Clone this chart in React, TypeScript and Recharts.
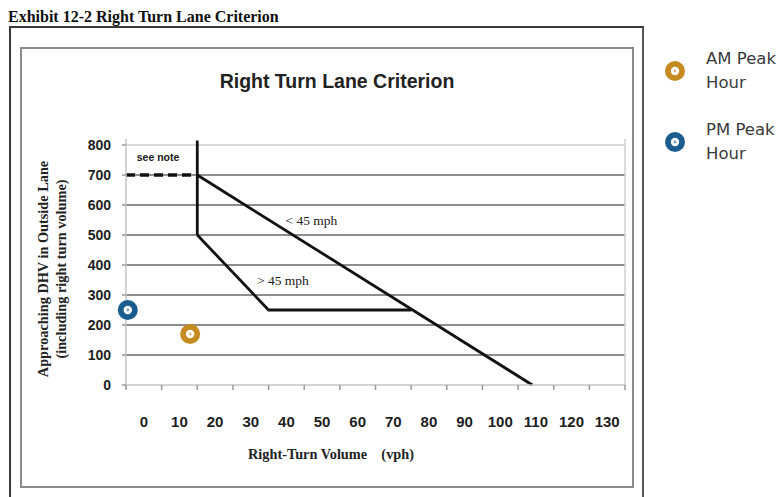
import React from 'react';
import {
  ComposedChart,
  Line,
  Scatter,
  XAxis,
  YAxis,
  CartesianGrid,
  Legend,
  ReferenceDot,
} from 'recharts';

// ---- data ----
const xTickMarks = [-5, 5, 15, 25, 35, 45, 55, 65, 75, 85, 95, 105, 115, 125, 135];
const xTickLabels = [0, 10, 20, 30, 40, 50, 60, 70, 80, 90, 100, 110, 120, 130];
const yTicks = [0, 100, 200, 300, 400, 500, 600, 700, 800];
const gridValues = [100, 200, 300, 400, 500, 600, 700];

const boundaryVertical = [
  { x: 15, y: 815 },
  { x: 15, y: 500 },
];
const below45 = [
  { x: 15, y: 700 },
  { x: 109, y: 0 },
];
const above45 = [
  { x: 15, y: 500 },
  { x: 35, y: 250 },
  { x: 75, y: 250 },
];
const seeNoteLine = [
  { x: -5, y: 700 },
  { x: 15, y: 700 },
];
const amPeak = [{ x: 13, y: 170 }];
const pmPeak = [{ x: -4.5, y: 250 }];

const annotations = [
  { x: 4, y: 760, text: 'see note', font: 'Liberation Sans, Arial, sans-serif', size: 10.5, weight: 700 },
  { x: 47, y: 548, text: '< 45 mph', font: 'Liberation Serif, Times New Roman, serif', size: 13.5, weight: 400 },
  { x: 39, y: 348, text: '> 45 mph', font: 'Liberation Serif, Times New Roman, serif', size: 13.5, weight: 400 },
];

const AM_COLOR = '#c68b20';
const PM_COLOR = '#1b5d8f';

const ring = (props: any) => {
  const { cx, cy, fill } = props;
  if (cx == null || cy == null) return <g />;
  return (
    <g>
      <circle cx={cx} cy={cy} r={10} fill={fill} />
      <circle cx={cx} cy={cy} r={4.2} fill="#ffffff" />
      <circle cx={cx} cy={cy} r={1.4} fill={fill} opacity={0.6} />
    </g>
  );
};

const renderLegend = (props: any) => {
  const payload = (props.payload || []).filter((p: any) => p.type !== 'none');
  return (
    <div style={{ display: 'flex', flexDirection: 'column', gap: 23 }}>
      {payload.map((entry: any) => (
        <div key={entry.value} style={{ display: 'flex', alignItems: 'center' }}>
          <svg width={26} height={26} style={{ flex: 'none' }}>
            <circle cx={13} cy={13} r={10} fill={entry.color} />
            <circle cx={13} cy={13} r={4.2} fill="#fff" />
            <circle cx={13} cy={13} r={1.4} fill={entry.color} opacity={0.6} />
          </svg>
          <div
            style={{
              marginLeft: 18,
              width: 78,
              fontFamily: 'DejaVu Sans, sans-serif',
              fontSize: 16.5,
              lineHeight: '24px',
              color: '#3a3a3a',
              textAlign: 'left',
            }}
          >
            {entry.value}
          </div>
        </div>
      ))}
    </div>
  );
};

export default function App() {
  return (
    <div
      style={{
        position: 'absolute',
        left: 0,
        top: 0,
        width: 781,
        height: 497,
        overflow: 'hidden',
        background: '#ffffff',
      }}
    >
      {/* frames */}
      <div
        style={{
          position: 'absolute',
          left: 9,
          top: 26,
          width: 635,
          height: 490,
          border: '2px solid #3a3a3a',
          borderRight: '2.5px solid #555',
          boxSizing: 'border-box',
        }}
      />
      <div
        style={{
          position: 'absolute',
          left: 20,
          top: 47,
          width: 614,
          height: 441,
          border: '2px solid #8a8a8a',
          boxSizing: 'border-box',
        }}
      />

      <div style={{ position: 'absolute', left: 0, top: 0 }}>
        <ComposedChart
          width={781}
          height={497}
          margin={{ top: 139, right: 156, left: 36, bottom: 30 }}
        >
          <CartesianGrid
            xAxisId="axisA"
            horizontalValues={gridValues}
            vertical={false}
            stroke="#8e8e8e"
            strokeWidth={2}
          />
          <CartesianGrid
            xAxisId="axisA"
            horizontalValues={[800]}
            verticalValues={[135]}
            stroke="#cfcfcf"
            strokeWidth={1.5}
          />
          <XAxis
            xAxisId="axisA"
            dataKey="x"
            type="number"
            domain={[-5, 135]}
            ticks={xTickMarks}
            tickFormatter={() => ''}
            height={12}
            tickSize={5}
            axisLine={{ stroke: '#c4c4c4', strokeWidth: 1.5 }}
            tickLine={{ stroke: '#9a9a9a', strokeWidth: 1.5 }}
          />
          <XAxis
            xAxisId="axisB"
            dataKey="x"
            type="number"
            domain={[-5, 135]}
            ticks={xTickLabels}
            height={70}
            tickSize={0}
            tickMargin={19}
            axisLine={false}
            tickLine={false}
            tick={{
              fontFamily: 'Liberation Sans, Arial, sans-serif',
              fontSize: 15,
              fontWeight: 600,
              fill: '#1e1e1e',
            }}
          />
          <YAxis
            dataKey="y"
            type="number"
            domain={[0, 820]}
            ticks={yTicks}
            width={90}
            tickSize={4}
            tickMargin={11}
            axisLine={{ stroke: '#c4c4c4', strokeWidth: 1.5 }}
            tickLine={{ stroke: '#9a9a9a', strokeWidth: 1.5 }}
            tick={{
              fontFamily: 'Liberation Sans, Arial, sans-serif',
              fontSize: 14,
              fontWeight: 600,
              fill: '#1e1e1e',
            }}
          />
          <Line
            xAxisId="axisA"
            data={seeNoteLine}
            dataKey="y"
            stroke="#111"
            strokeWidth={3.5}
            strokeDasharray="9 5"
            dot={false}
            activeDot={false}
            legendType="none"
            isAnimationActive={false}
          />
          <Line
            xAxisId="axisA"
            data={boundaryVertical}
            dataKey="y"
            stroke="#111"
            strokeWidth={2.8}
            dot={false}
            activeDot={false}
            legendType="none"
            isAnimationActive={false}
          />
          <Line
            xAxisId="axisA"
            data={below45}
            dataKey="y"
            stroke="#111"
            strokeWidth={2.8}
            dot={false}
            activeDot={false}
            legendType="none"
            isAnimationActive={false}
          />
          <Line
            xAxisId="axisA"
            data={above45}
            dataKey="y"
            stroke="#111"
            strokeWidth={2.8}
            dot={false}
            activeDot={false}
            legendType="none"
            isAnimationActive={false}
          />
          {annotations.map((a) => (
            <ReferenceDot
              key={a.text}
              xAxisId="axisA"
              x={a.x}
              y={a.y}
              r={0}
              stroke="none"
              fill="none"
              label={{
                value: a.text,
                position: 'center',
                fontFamily: a.font,
                fontSize: a.size,
                fontWeight: a.weight,
                fill: '#1a1a1a',
              }}
            />
          ))}
          <Scatter
            xAxisId="axisB"
            name="AM Peak Hour"
            data={amPeak}
            fill={AM_COLOR}
            shape={ring}
            isAnimationActive={false}
          />
          <Scatter
            xAxisId="axisB"
            name="PM Peak Hour"
            data={pmPeak}
            fill={PM_COLOR}
            shape={ring}
            isAnimationActive={false}
          />
          <Legend
            content={renderLegend}
            layout="vertical"
            align="center"
            verticalAlign="middle"
            wrapperStyle={{ left: 662, top: 47, width: 119, height: 'auto' }}
          />
        </ComposedChart>
      </div>

      {/* titles */}
      <svg
        width={781}
        height={497}
        style={{ position: 'absolute', left: 0, top: 0, pointerEvents: 'none' }}
      >
        <text
          x={8}
          y={22}
          fontFamily="Liberation Serif, Times New Roman, serif"
          fontWeight={700}
          fontSize={16}
          fill="#111"
        >
          Exhibit 12-2 Right Turn Lane Criterion
        </text>
        <text
          x={337}
          y={88}
          textAnchor="middle"
          fontFamily="Liberation Sans, Arial, sans-serif"
          fontWeight={700}
          fontSize={19.5}
          fill="#222"
        >
          Right Turn Lane Criterion
        </text>
        <text
          transform="translate(48,269) rotate(-90)"
          textAnchor="middle"
          fontFamily="Liberation Serif, Times New Roman, serif"
          fontWeight={700}
          fontSize={14.3}
          fill="#222"
        >
          Approaching DHV in Outside Lane
        </text>
        <text
          transform="translate(66,269) rotate(-90)"
          textAnchor="middle"
          fontFamily="Liberation Serif, Times New Roman, serif"
          fontWeight={700}
          fontSize={14.3}
          fill="#222"
        >
          (including right turn volume)
        </text>
        <text
          x={331}
          y={459}
          textAnchor="middle"
          fontFamily="Liberation Serif, Times New Roman, serif"
          fontWeight={700}
          fontSize={14.3}
          fill="#222"
          style={{ whiteSpace: 'pre' }}
        >
          {'Right-Turn Volume    (vph)'}
        </text>
      </svg>
    </div>
  );
}
